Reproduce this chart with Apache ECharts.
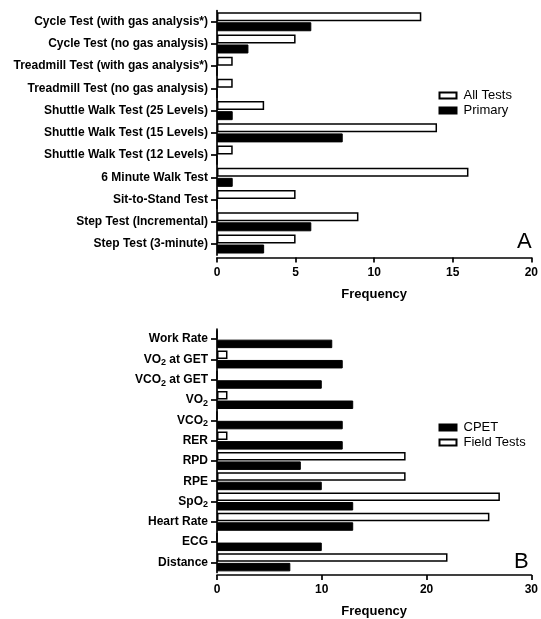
<!DOCTYPE html>
<html>
<head>
<meta charset="utf-8">
<script src="https://cdn.jsdelivr.net/npm/echarts@6/dist/echarts.min.js"></script>
<style>
html,body{margin:0;padding:0;background:#fff;}
#c{width:541px;height:619px;}
</style>
</head>
<body>
<div id="c"></div>
<script>
const catsA = ['Cycle Test (with gas analysis*)','Cycle Test (no gas analysis)','Treadmill Test (with gas analysis*)','Treadmill Test (no gas analysis)','Shuttle Walk Test (25 Levels)','Shuttle Walk Test (15 Levels)','Shuttle Walk Test (12 Levels)','6 Minute Walk Test','Sit-to-Stand Test','Step Test (Incremental)','Step Test (3-minute)'];
const allTests = [13,5,1,1,3,14,1,16,5,9,5];
const primary = [6,2,0,0,1,8,0,1,0,6,3];

const catsB = ['Work Rate','VO2 at GET','VCO2 at GET','VO2','VCO2','RER','RPD','RPE','SpO2','Heart Rate','ECG','Distance'];
const fieldTests = [0,1,0,1,0,1,18,18,27,26,0,22];
const cpet = [11,12,10,13,12,12,8,10,13,13,10,7];

const axisA = {min:0, max:20, interval:5};
const axisB = {min:0, max:30, interval:10};

const FONT = "'Liberation Sans', Arial, Helvetica, sans-serif";
const lineStyle = {color:'#000', width:1.7};

function xAxisOf(ax, gi){
  return {
    type:'value', gridIndex:gi, min:ax.min, max:ax.max, interval:ax.interval,
    offset:2.5,
    name:'Frequency', nameLocation:'middle', nameGap:30,
    nameTextStyle:{fontFamily:FONT, fontWeight:'bold', fontSize:13, color:'#000'},
    axisLine:{show:true, lineStyle:lineStyle},
    axisTick:{show:true, length:5, lineStyle:lineStyle},
    axisLabel:{fontFamily:FONT, fontWeight:'bold', fontSize:12, color:'#000', margin:9},
    splitLine:{show:false}
  };
}
function yAxisOf(cats, gi, rich){
  const lab = {fontFamily:FONT, fontWeight:'bold', fontSize:12, color:'#000', margin:9};
  if (rich){
    lab.formatter = function(v){
      return v.split(/(O2)/).filter(s=>s.length).map(s => s==='O2' ? '{n|O}{s|2}' : '{n|'+s+'}').join('');
    };
    lab.rich = {
      n:{fontFamily:FONT, fontWeight:'bold', fontSize:12, color:'#000', lineHeight:16},
      s:{fontFamily:FONT, fontWeight:'bold', fontSize:9, color:'#000', lineHeight:9, verticalAlign:'bottom'}
    };
  }
  return {
    type:'category', gridIndex:gi, data:cats, inverse:true,
    axisLine:{show:true, lineStyle:lineStyle},
    axisTick:{show:true, alignWithLabel:true, length:6, lineStyle:lineStyle},
    axisLabel:lab
  };
}
const whiteStyle = {color:'#fff', borderColor:'#000', borderWidth:1.5};
const blackStyle = {color:'#000', borderColor:'#000', borderWidth:1};

const legendBase = {orient:'vertical', left:433.5, itemWidth:17, itemHeight:6, itemGap:2, icon:'rect',
  textStyle:{fontFamily:FONT, fontSize:13, color:'#000', padding:[0,0,0,2]}};

const chart = echarts.init(document.getElementById('c'), null, {renderer:'canvas'});
chart.setOption({
  animation:false,
  backgroundColor:'#fff',
  title:[
    {text:'A', left:512, top:226, textStyle:{fontFamily:FONT, fontWeight:'normal', fontSize:22, color:'#000'}},
    {text:'B', left:509, top:546, textStyle:{fontFamily:FONT, fontWeight:'normal', fontSize:22, color:'#000'}}
  ],
  legend:[
    Object.assign({}, legendBase, {data:['All Tests','Primary'], top:84}),
    Object.assign({}, legendBase, {data:['CPET','Field Tests'], top:416})
  ],
  grid:[
    {left:217, top:10.6, width:316, height:244.5},
    {left:217, top:329, width:316.7, height:246.3}
  ],
  xAxis:[xAxisOf(axisA,0), xAxisOf(axisB,1)],
  yAxis:[yAxisOf(catsA,0,false), yAxisOf(catsB,1,true)],
  series:[
    {name:'All Tests', type:'bar', xAxisIndex:0, yAxisIndex:0, data:allTests, barWidth:9, barGap:'12%', itemStyle:whiteStyle},
    {name:'Primary', type:'bar', xAxisIndex:0, yAxisIndex:0, data:primary, barWidth:9, barGap:'12%', itemStyle:blackStyle},
    {name:'Field Tests', type:'bar', xAxisIndex:1, yAxisIndex:1, data:fieldTests, barWidth:8.5, barGap:'12%', itemStyle:whiteStyle},
    {name:'CPET', type:'bar', xAxisIndex:1, yAxisIndex:1, data:cpet, barWidth:8.5, barGap:'12%', itemStyle:blackStyle}
  ]
});
</script>
</body>
</html>
